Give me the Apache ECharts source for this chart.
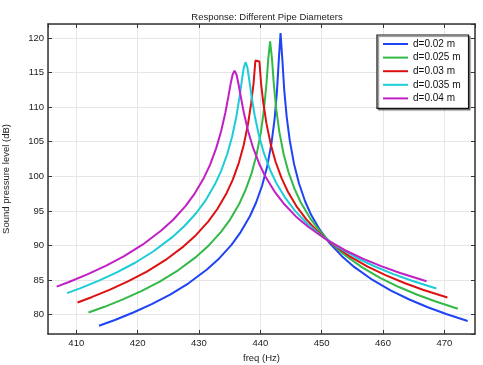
<!DOCTYPE html>
<html>
<head>
<meta charset="utf-8">
<script src="https://cdn.jsdelivr.net/npm/echarts@6/dist/echarts.min.js"></script>
<style>
html,body{margin:0;padding:0;background:#fff;}
#chart{width:483px;height:365px;}
</style>
</head>
<body>
<div id="chart"></div>
<script>
var seriesNames = ['d=0.02 m', 'd=0.025 m', 'd=0.03 m', 'd=0.035 m', 'd=0.04 m'];

var freq02 = [413.7, 416.3, 419.3, 422.3, 425.3, 428.3, 431.3, 433.3, 435.3, 436.8, 438.3, 439.3, 440.3, 441.1, 441.8, 442.3, 442.7, 443.0, 443.3, 443.6, 443.9, 444.3, 444.8, 445.5, 446.3, 447.3, 448.3, 449.8, 451.3, 453.3, 455.3, 458.3, 461.3, 464.3, 467.3, 470.3, 473.8];
var spl02 = [78.40, 79.24, 80.32, 81.52, 82.90, 84.54, 86.53, 88.14, 90.10, 91.94, 94.23, 96.18, 98.68, 101.36, 104.65, 108.04, 112.08, 116.61, 120.70, 116.80, 112.50, 108.60, 105.20, 101.80, 99.00, 96.40, 94.40, 92.14, 90.36, 88.46, 86.91, 85.02, 83.48, 82.20, 81.08, 80.10, 79.10];

var freq025 = [412.0, 414.6, 417.6, 420.6, 423.6, 426.6, 429.6, 431.6, 433.6, 435.1, 436.6, 437.6, 438.6, 439.4, 440.1, 440.6, 441.0, 441.3, 441.6, 441.9, 442.2, 442.6, 443.1, 443.8, 444.6, 445.6, 446.6, 448.1, 449.6, 451.6, 453.6, 456.6, 459.6, 462.6, 465.6, 468.6, 472.2];
var spl025 = [80.31, 81.14, 82.21, 83.42, 84.79, 86.42, 88.40, 90.01, 91.97, 93.79, 96.08, 98.02, 100.51, 103.17, 106.39, 109.66, 113.36, 117.01, 119.51, 117.01, 113.38, 109.68, 106.43, 103.23, 100.59, 98.14, 96.22, 93.97, 92.19, 90.29, 88.74, 86.84, 85.29, 84.00, 82.89, 81.90, 80.87];

var freq03 = [410.2, 412.5, 415.5, 418.5, 421.5, 424.5, 427.5, 429.5, 431.5, 433.0, 434.5, 435.5, 436.5, 437.3, 438.0, 438.5, 438.9, 439.2, 439.85, 440.15, 440.5, 441.0, 441.7, 442.5, 443.5, 444.5, 446.0, 447.5, 449.5, 451.5, 454.5, 457.5, 460.5, 463.5, 466.5, 470.5];
var spl03 = [81.77, 82.53, 83.62, 84.84, 86.23, 87.88, 89.88, 91.50, 93.46, 95.28, 97.57, 99.50, 101.95, 104.54, 107.59, 110.51, 113.44, 116.75, 116.60, 113.20, 110.55, 107.65, 104.62, 102.07, 99.66, 97.77, 95.54, 93.78, 91.90, 90.36, 88.48, 86.95, 85.68, 84.58, 83.61, 82.49];

var freq035 = [408.5, 410.6, 413.6, 416.6, 419.6, 422.6, 425.6, 427.6, 429.6, 431.1, 432.6, 433.6, 434.6, 435.4, 436.1, 436.6, 437.0, 437.3, 437.6, 437.9, 438.2, 438.6, 439.1, 439.8, 440.6, 441.6, 442.6, 444.1, 445.6, 447.6, 449.6, 452.6, 455.6, 458.6, 461.6, 464.6, 468.7];
var spl035 = [83.11, 83.80, 84.90, 86.12, 87.51, 89.17, 91.17, 92.79, 94.74, 96.56, 98.84, 100.76, 103.19, 105.72, 108.66, 111.38, 113.92, 115.69, 116.50, 115.71, 113.94, 111.42, 108.72, 105.82, 103.31, 100.92, 99.05, 96.84, 95.08, 93.21, 91.67, 89.80, 88.27, 87.00, 85.90, 84.94, 83.79];

var freq04 = [406.8, 408.8, 411.8, 414.8, 417.8, 420.8, 423.8, 425.8, 427.8, 429.3, 430.8, 431.8, 432.8, 433.6, 434.3, 434.8, 435.2, 435.5, 435.8, 436.1, 436.4, 436.8, 437.3, 438.0, 438.8, 439.8, 440.8, 442.3, 443.8, 445.8, 447.8, 450.8, 453.8, 456.8, 459.8, 462.8, 467.1];
var spl04 = [84.05, 84.72, 85.82, 87.06, 88.46, 90.12, 92.13, 93.73, 95.70, 97.51, 99.77, 101.66, 104.04, 106.48, 109.19, 111.55, 113.54, 114.75, 115.25, 114.77, 113.56, 111.59, 109.27, 106.58, 104.18, 101.86, 100.01, 97.83, 96.08, 94.21, 92.71, 90.84, 89.32, 88.06, 86.98, 86.02, 84.84];

var allFreq = [freq02, freq025, freq03, freq035, freq04];
var allSpl = [spl02, spl025, spl03, spl035, spl04];
var colors = ['#1f44f5', '#33b947', '#dd1111', '#1cccd6', '#c020c4'];

var FONT = 'Liberation Sans';
var frameColor = '#333333';

function zip(a, b) { var r = []; for (var i = 0; i < a.length; i++) r.push([a[i], b[i]]); return r; }

var series = seriesNames.map(function (n, i) {
  return {
    name: n, type: 'line', data: zip(allFreq[i], allSpl[i]),
    xAxisIndex: 0, yAxisIndex: 0,
    symbol: 'none', smooth: false,
    lineStyle: { color: colors[i], width: 2 },
    itemStyle: { color: colors[i] }
  };
});

var xCommon = { type: 'value', min: 405.39, max: 475.0, splitNumber: 7 };
var yCommon = { type: 'value', min: 77.21, max: 122.02, splitNumber: 9 };

var chart = echarts.init(document.getElementById('chart'), null, { renderer: 'canvas' });
chart.setOption({
  animation: false,
  backgroundColor: '#ffffff',
  color: colors,
  title: {
    text: 'Response: Different Pipe Diameters',
    left: 262, top: 7, textAlign: 'center',
    textStyle: { fontFamily: FONT, fontSize: 9.5, fontWeight: 'normal', color: '#222' }
  },
  legend: {
    orient: 'vertical', left: 377, top: 35,
    data: seriesNames,
    icon: 'rect', itemWidth: 25, itemHeight: 2, itemGap: 3.6,
    padding: [4, 8, 5, 6],
    backgroundColor: '#ffffff', borderColor: '#111', borderWidth: 1.2,
    shadowColor: 'rgba(0,0,0,0.45)', shadowOffsetX: 1.5, shadowOffsetY: 1.5, shadowBlur: 1,
    textStyle: { fontFamily: FONT, fontSize: 10, color: '#111', lineHeight: 10 }
  },
  grid: { left: 48, right: 8, top: 24, bottom: 31, containLabel: false, outerBoundsMode: 'none' },
  xAxis: [
    Object.assign({}, xCommon, {
      position: 'bottom',
      name: 'freq (Hz)', nameLocation: 'middle', nameGap: 15,
      nameTextStyle: { fontFamily: FONT, fontSize: 9.5, color: '#222' },
      axisLine: { show: true, onZero: false, lineStyle: { color: frameColor, width: 1.5 } },
      axisTick: { show: true, inside: true, length: 4, lineStyle: { color: frameColor, width: 1 } },
      axisLabel: { fontFamily: FONT, fontSize: 9.5, color: '#222', margin: 4, showMinLabel: false, showMaxLabel: false },
      splitLine: { show: true, lineStyle: { color: '#e6e6e6', width: 1 } }
    }),
    Object.assign({}, xCommon, {
      position: 'top',
      axisLine: { show: true, onZero: false, lineStyle: { color: frameColor, width: 1.5 } },
      axisTick: { show: true, inside: true, length: 4, lineStyle: { color: frameColor, width: 1 } },
      axisLabel: { show: false },
      splitLine: { show: false }
    })
  ],
  yAxis: [
    Object.assign({}, yCommon, {
      position: 'left',
      name: 'Sound pressure level (dB)', nameLocation: 'middle', nameGap: 37,
      nameTextStyle: { fontFamily: FONT, fontSize: 9.5, color: '#222' },
      axisLine: { show: true, onZero: false, lineStyle: { color: frameColor, width: 1.5 } },
      axisTick: { show: true, inside: true, length: 4, lineStyle: { color: frameColor, width: 1 } },
      axisLabel: { fontFamily: FONT, fontSize: 9.5, color: '#222', margin: 4, showMinLabel: false, showMaxLabel: false },
      splitLine: { show: true, lineStyle: { color: '#e6e6e6', width: 1 } }
    }),
    Object.assign({}, yCommon, {
      position: 'right',
      axisLine: { show: true, onZero: false, lineStyle: { color: frameColor, width: 1.5 } },
      axisTick: { show: true, inside: true, length: 4, lineStyle: { color: frameColor, width: 1 } },
      axisLabel: { show: false },
      splitLine: { show: false }
    })
  ],
  series: series
});
</script>
</body>
</html>
